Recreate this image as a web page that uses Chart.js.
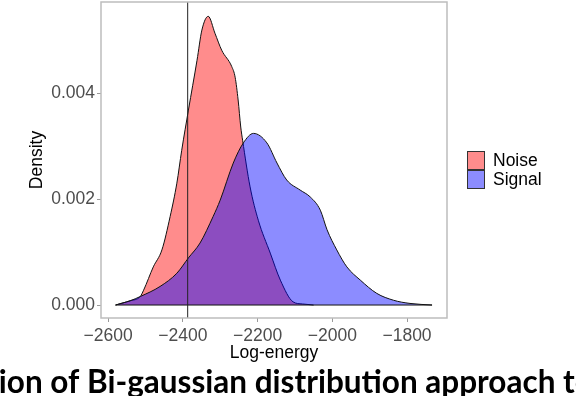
<!DOCTYPE html>
<html><head><meta charset="utf-8">
<script src="https://cdn.jsdelivr.net/npm/chart.js@4/dist/chart.umd.min.js"></script>
<style>
html,body{margin:0;padding:0;background:#fff;overflow:hidden}
#wrap{position:relative;width:576px;height:396px;overflow:hidden;background:#fff}
#c{position:absolute;left:0;top:0}
</style></head>
<body><div id="wrap"><canvas id="c" width="576" height="396"></canvas></div>
<script>
// ---- data ----
const noiseX = [-2580, -2560, -2541, -2514, -2505, -2479, -2456, -2434, -2416, -2403, -2385, -2362, -2349, -2332, -2314, -2296, -2269, -2260, -2252, -2245, -2240, -2220, -2198, -2166, -2139, -2105, -2080, -2050];
const noiseY = [0, 0.00004, 0.00008, 0.00016, 0.00028, 0.00072, 0.00104, 0.00167, 0.00230, 0.00292, 0.00368, 0.00462, 0.00519, 0.00545, 0.00513, 0.00481, 0.00450, 0.00430, 0.00387, 0.00336, 0.00311, 0.00223, 0.00160, 0.00098, 0.00047, 0.00006, 0.00002, 0];
const signalX = [-2580, -2560, -2541, -2514, -2461, -2416, -2385, -2354, -2319, -2300, -2265, -2238, -2211, -2175, -2148, -2122, -2086, -2059, -2032, -2014, -1988, -1961, -1925, -1881, -1836, -1792, -1733];
const signalY = [0, 0.00004, 0.00008, 0.00016, 0.00035, 0.00060, 0.00089, 0.00117, 0.00167, 0.00198, 0.00268, 0.00306, 0.00324, 0.00306, 0.00268, 0.00236, 0.00217, 0.00204, 0.00179, 0.00142, 0.00104, 0.00072, 0.00047, 0.00022, 0.00009, 0.00003, 0];
const thresholdX = -2387;
const xTicks = [-2600, -2400, -2200, -2000, -1800];
const yTicks = [0, 0.002, 0.004];
const xRange = [-2619, -1693];
const yRange = [-0.000245, 0.00572];
const seriesNames = ['Noise', 'Signal'];
const xTitle = 'Log-energy';
const yTitle = 'Density';
const caption = 'ion of Bi-gaussian distribution approach to';

const FONT = '"Liberation Sans", Arial, sans-serif';
const fills = ['rgba(255,0,0,0.45)', 'rgba(0,0,255,0.45)'];

const pts = (xs, ys) => xs.map((x, i) => ({x, y: ys[i]}));
const allX = noiseX.concat(signalX);

const overlay = {
  id: 'overlay',
  afterDraw(chart) {
    const {ctx, chartArea: a} = chart;
    ctx.save();
    // panel border
    ctx.strokeStyle = '#BDBDBD'; ctx.lineWidth = 1.5;
    ctx.strokeRect(a.left, a.top, a.right - a.left, a.bottom - a.top);
    // axis titles
    ctx.fillStyle = '#000';
    ctx.font = '17.5px ' + FONT;
    ctx.textAlign = 'center'; ctx.textBaseline = 'middle';
    ctx.fillText(xTitle, (a.left + a.right) / 2, 353);
    ctx.save();
    ctx.translate(37, (a.top + a.bottom) / 2);
    ctx.rotate(-Math.PI / 2);
    ctx.fillText(yTitle, 0, 0);
    ctx.restore();
    // legend
    ctx.textAlign = 'left';
    seriesNames.forEach((n, i) => {
      const y = 151 + i * 19;
      ctx.fillStyle = '#fff'; ctx.fillRect(467, y, 18, 19);
      ctx.fillStyle = fills[i]; ctx.fillRect(467, y, 18, 19);
      ctx.strokeStyle = '#333'; ctx.lineWidth = 1;
      ctx.strokeRect(467.5, y + 0.5, 17, 18);
      ctx.fillStyle = '#000';
      ctx.fillText(n, 493, y + 10);
    });
    // caption
    ctx.font = 'bold 100px Lato, ' + FONT;
    const w = ctx.measureText('Bi-gaussian distribution approach ').width;
    const size = 100 * 476 / w;
    ctx.font = 'bold ' + size.toFixed(2) + 'px Lato, ' + FONT;
    const pre = ctx.measureText('ion of ').width;
    ctx.textBaseline = 'alphabetic';
    ctx.fillStyle = '#000';
    ctx.fillText(caption, 87 - pre, 393);
    ctx.restore();
  }
};

new Chart(document.getElementById('c'), {
  type: 'line',
  data: {
    datasets: [
      {label: seriesNames[0], data: pts(noiseX, noiseY), backgroundColor: fills[0], borderColor: '#111', borderWidth: 1, fill: 'origin', pointRadius: 0, cubicInterpolationMode: 'monotone', order: 3},
      {label: seriesNames[1], data: pts(signalX, signalY), backgroundColor: fills[1], borderColor: '#111', borderWidth: 1, fill: 'origin', pointRadius: 0, cubicInterpolationMode: 'monotone', order: 2},
      {label: 'baseline', data: [{x: Math.min(...allX), y: 0}, {x: Math.max(...allX), y: 0}], borderColor: '#111', borderWidth: 1, fill: false, pointRadius: 0, order: 1},
      {label: 'threshold', data: [{x: thresholdX, y: yRange[0]}, {x: thresholdX, y: yRange[1]}], borderColor: '#222', borderWidth: 1, fill: false, pointRadius: 0, order: 0}
    ]
  },
  options: {
    responsive: false,
    animation: false,
    devicePixelRatio: 1,
    layout: {padding: {top: 2, right: 129, left: 0, bottom: 0}},
    plugins: {legend: {display: false}, tooltip: {enabled: false}, filler: {drawTime: 'beforeDatasetDraw'}},
    scales: {
      x: {
        type: 'linear', min: xRange[0], max: xRange[1],
        afterBuildTicks: s => { s.ticks = xTicks.map(v => ({value: v})); },
        afterFit: s => { s.height = 78; s.paddingLeft = 0; s.paddingRight = 0; },
        grid: {drawOnChartArea: false, drawTicks: true, tickLength: 4, color: '#9A9A9A'},
        border: {display: false},
        ticks: {padding: 4, color: '#4D4D4D', font: {family: FONT, size: 17.5}, maxRotation: 0,
          callback: v => (v < 0 ? '\u2212' : '') + Math.abs(v)}
      },
      y: {
        type: 'linear', min: yRange[0], max: yRange[1],
        afterBuildTicks: s => { s.ticks = yTicks.map(v => ({value: v})); },
        afterFit: s => { s.width = 101; s.paddingTop = 0; s.paddingBottom = 0; },
        grid: {drawOnChartArea: false, drawTicks: true, tickLength: 4, color: '#9A9A9A'},
        border: {display: false},
        ticks: {padding: 2, color: '#4D4D4D', font: {family: FONT, size: 17.5},
          callback: v => Number(v).toFixed(3)}
      }
    }
  },
  plugins: [overlay]
});
</script>
</body></html>
